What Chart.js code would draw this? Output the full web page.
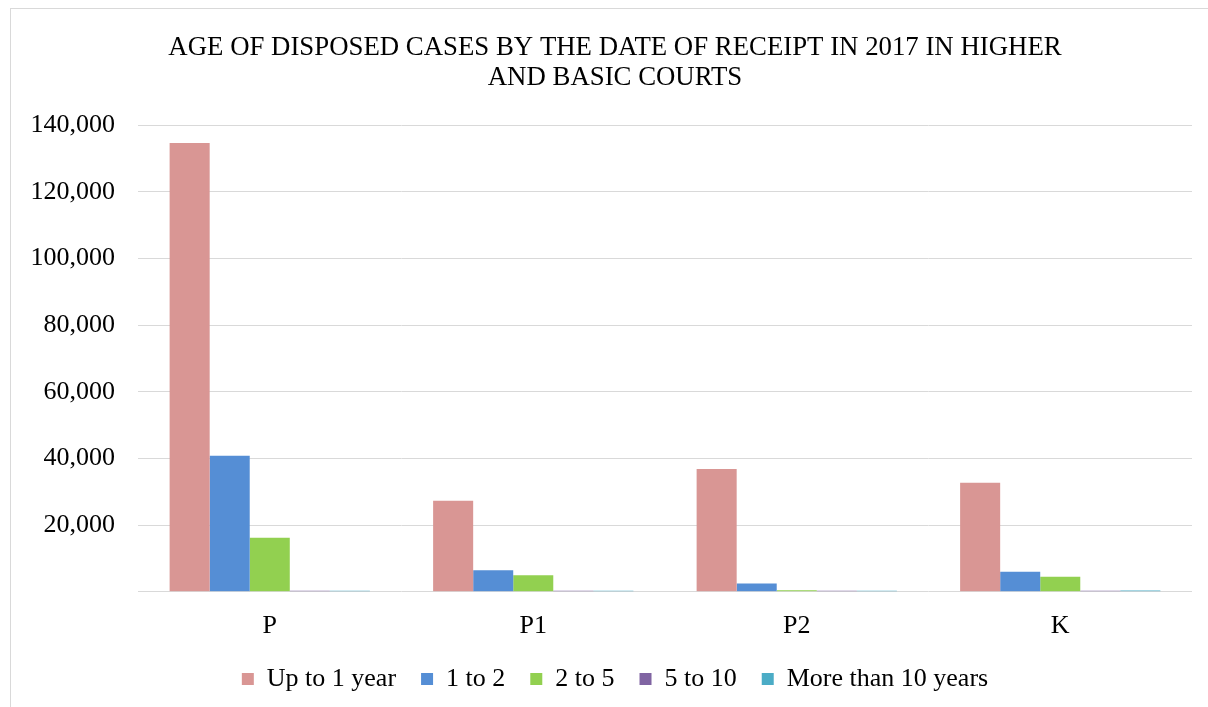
<!DOCTYPE html>
<html lang="en">
<head>
    <meta charset="UTF-8">
    <title>Age of disposed cases</title>
    <script src="https://cdn.jsdelivr.net/npm/chart.js"></script>
    <style>
        html, body {
            margin: 0;
            padding: 0;
            background: #ffffff;
            overflow: hidden;
        }
        .frame {
            position: absolute;
            left: 10px;
            top: 8px;
            width: 1210px;
            height: 720px;
            border: 1px solid #d9d9d9;
        }
        .frame canvas {
            position: absolute;
            left: 0;
            top: 0;
        }
    </style>
</head>
<body>
    <div class="frame">
        <canvas id="ageChart" width="1208" height="700"></canvas>
    </div>

    <script>
        // data
        var courts = ['P', 'P1', 'P2', 'K'];
        var seriesNames = ['Up to 1 year', '1 to 2', '2 to 5', '5 to 10', 'More than 10 years'];
        var upTo1 = [134600, 27300, 36800, 32700];
        var oneTo2 = [40800, 6500, 2500, 6000];
        var twoTo5 = [16200, 5000, 500, 4500];
        var fiveTo10 = [200, 100, 100, 100];
        var moreThan10 = [100, 30, 30, 400];
        var yTicks = [0, 20000, 40000, 60000, 80000, 100000, 120000, 140000];

        var colors = ['#d99694', '#558ed5', '#92d050', '#8064a2', '#4bacc6'];
        var values = [upTo1, oneTo2, twoTo5, fiveTo10, moreThan10];

        var serif = "'Liberation Serif', 'Times New Roman', serif";

        var datasets = seriesNames.map(function (name, i) {
            return {
                label: name,
                data: values[i],
                backgroundColor: colors[i],
                borderWidth: 0,
                categoryPercentage: 0.76,
                barPercentage: 1.0,
                minBarLength: 1
            };
        });

        // labels may spill outside their axis box (Excel-like spacing)
        function noLabelClip(axis) {
            axis._computeLabelArea = function () { return undefined; };
        }

        var ctx = document.getElementById('ageChart').getContext('2d');
        new Chart(ctx, {
            type: 'bar',
            data: { labels: courts, datasets: datasets },
            options: {
                responsive: false,
                animation: false,
                layout: { padding: { left: 27, right: 27, top: 0, bottom: 7 } },
                plugins: {
                    title: {
                        display: true,
                        text: ['AGE OF DISPOSED CASES BY THE DATE OF RECEIPT IN 2017 IN HIGHER', 'AND BASIC COURTS'],
                        color: '#000000',
                        font: { family: serif, size: 26.8, weight: 'normal', lineHeight: 1.12 },
                        padding: { top: 24, bottom: 32 }
                    },
                    legend: {
                        position: 'bottom',
                        labels: {
                            color: '#000000',
                            font: { family: serif, size: 26 },
                            boxWidth: 12,
                            boxHeight: 12,
                            padding: 25
                        }
                    },
                    tooltip: { enabled: false }
                },
                scales: {
                    x: {
                        grid: { display: false },
                        border: { display: false },
                        afterFit: function (axis) {
                            noLabelClip(axis);
                            axis.height -= 12;
                        },
                        ticks: {
                            color: '#000000',
                            font: { family: serif, size: 26 },
                            padding: 11
                        }
                    },
                    y: {
                        min: 0,
                        max: 140000,
                        afterBuildTicks: function (axis) {
                            axis.ticks = yTicks.map(function (v) { return { value: v }; });
                        },
                        afterFit: function (axis) {
                            noLabelClip(axis);
                            axis.width = 100;
                        },
                        grid: { color: '#d9d9d9', lineWidth: 1, drawTicks: false },
                        border: { display: false },
                        ticks: {
                            color: '#000000',
                            font: { family: serif, size: 26 },
                            padding: 23,
                            callback: function (v) {
                                return v === 0 ? '' : v.toLocaleString('en-US');
                            }
                        }
                    }
                }
            }
        });
    </script>
</body>
</html>
